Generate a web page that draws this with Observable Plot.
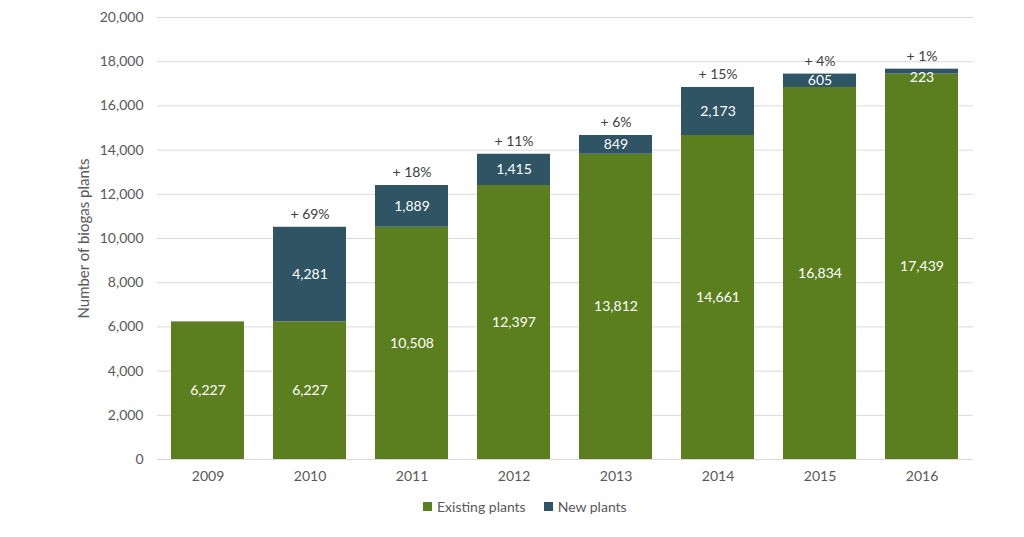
<!DOCTYPE html>
<html>
<head>
<meta charset="utf-8">
<script src="https://cdn.jsdelivr.net/npm/d3@7"></script>
<script src="https://cdn.jsdelivr.net/npm/@observablehq/plot@0.6"></script>
<style>
  html, body { margin: 0; padding: 0; background: #fff; }
  body { width: 1024px; height: 537px; overflow: hidden; font-family: Lato, "Open Sans", sans-serif; }
  #legend { display: flex; gap: 18px; margin-left: 423px; margin-top: 8px; font-size: 14px; color: #595959; align-items: center; }
  .item { display: flex; align-items: center; gap: 5px; }
  .sw { width: 9px; height: 9px; display: inline-block; }
  g[aria-label="y-axis label"] text { font-size: 15px; }
</style>
</head>
<body>
<div id="chart"></div>
<div id="legend"></div>
<script>
const years = ["2009","2010","2011","2012","2013","2014","2015","2016"];
const existing = [6227, 6227, 10508, 12397, 13812, 14661, 16834, 17439];
const newPlants = [0, 4281, 1889, 1415, 849, 2173, 605, 223];
const growth = ["", "+ 69%", "+ 18%", "+ 11%", "+ 6%", "+ 15%", "+ 4%", "+ 1%"];
const seriesNames = ["Existing plants", "New plants"];
const seriesColors = ["#5b7f1f", "#2f5464"];
const yTicks = [0, 2000, 4000, 6000, 8000, 10000, 12000, 14000, 16000, 18000, 20000];

const rows = [];
years.forEach((y, i) => {
  rows.push({year: y, series: seriesNames[0], value: existing[i]});
  rows.push({year: y, series: seriesNames[1], value: newPlants[i]});
});
const totals = years.map((y, i) => ({year: y, total: existing[i] + newPlants[i], label: growth[i]}));
const fmt = d3.format(",");

const labelOpts = (textFn, extra) => Object.assign({
  x: "year", y: "value", z: "series", order: seriesNames,
  text: textFn, fill: "white", fontSize: 14
}, extra);

const chart = Plot.plot({
  width: 1024,
  height: 490,
  marginLeft: 157,
  marginRight: 51,
  marginTop: 17,
  marginBottom: 31,
  style: {fontFamily: "Lato, 'Open Sans', sans-serif", fontSize: "14px", color: "#595959", background: "#fff"},
  x: {domain: years, paddingInner: 0.284, paddingOuter: 0.142, label: null, tickSize: 0, tickPadding: 12},
  y: {domain: [0, 20000], ticks: yTicks, tickFormat: fmt, tickSize: 0, tickPadding: 14,
      label: "Number of biogas plants", labelAnchor: "center", labelArrow: "none", labelOffset: 79},
  color: {domain: seriesNames, range: seriesColors},
  marks: [
    Plot.gridY(yTicks, {stroke: "#d9d9d9", strokeOpacity: 1, strokeWidth: 1}),
    Plot.barY(rows, {x: "year", y: "value", fill: "series", order: seriesNames}),
    // labels for segments tall enough to hold them
    Plot.text(rows, Plot.stackY(labelOpts(d => d.value >= 400 ? fmt(d.value) : null, {}))),
    // small segments: label nudged down like the original
    Plot.text(rows, Plot.stackY(labelOpts(d => d.value > 0 && d.value < 400 ? fmt(d.value) : null, {dy: 6}))),
    Plot.text(totals.filter(d => d.label), {x: "year", y: "total", text: "label", dy: -13, fill: "#404040", fontSize: 14})
  ]
});
document.getElementById("chart").appendChild(chart);

const leg = document.getElementById("legend");
seriesNames.forEach((n, i) => {
  const it = document.createElement("div");
  it.className = "item";
  it.innerHTML = `<span class="sw" style="background:${seriesColors[i]}"></span><span>${n}</span>`;
  leg.appendChild(it);
});
</script>
</body>
</html>
